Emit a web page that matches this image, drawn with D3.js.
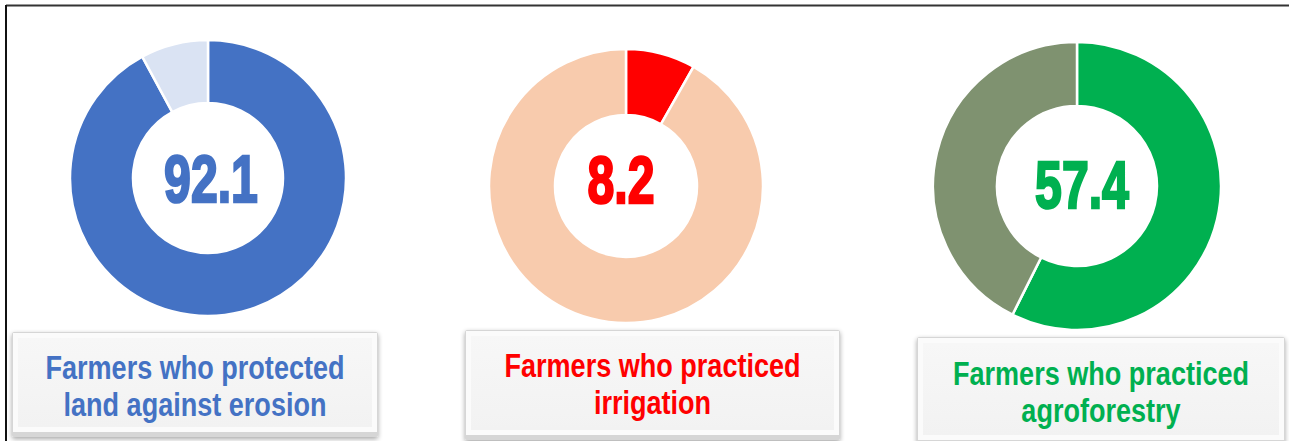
<!DOCTYPE html>
<html>
<head>
<meta charset="utf-8">
<script src="https://cdn.jsdelivr.net/npm/d3@7"></script>
<style>
  body { margin: 0; background: #fff; }
  svg { display: block; }
</style>
</head>
<body>
<div id="chart"></div>
<script>
// data
var values = [92.1, 8.2, 57.4];
var labelLines = [
    ["Farmers who protected", "land against erosion"],
    ["Farmers who practiced", "irrigation"],
    ["Farmers who practiced", "agroforestry"]
];
var mainColors = ["#4472C4", "#FF0000", "#00B050"];
var restColors = ["#DAE3F3", "#F8CBAD", "#7F9270"];

// layout of each panel
var panels = [
    { cx: 208, cy: 178, r0: 75, r1: 138, tx: 211, ty: 178, box: [12, 332, 366, 105] },
    { cx: 626, cy: 186, r0: 71, r1: 137, tx: 621, ty: 179, box: [465, 330, 375, 110] },
    { cx: 1077, cy: 186, r0: 80, r1: 144, tx: 1082, ty: 184, box: [917, 337, 368, 108] }
];

var width = 1289, height = 441;

var svg = d3.select('#chart')
    .append('svg')
    .attr('width', width)
    .attr('height', height);

var defs = svg.append('defs');
var shadow = defs.append('filter').attr('id', 'shadow')
    .attr('x', '-5%').attr('y', '-10%').attr('width', '110%').attr('height', '125%');
shadow.append('feGaussianBlur').attr('in', 'SourceAlpha').attr('stdDeviation', 2.5);
shadow.append('feOffset').attr('dx', 0).attr('dy', 2).attr('result', 'blur');
shadow.append('feComponentTransfer').append('feFuncA').attr('type', 'linear').attr('slope', 0.35);
var merge = shadow.append('feMerge');
merge.append('feMergeNode');
merge.append('feMergeNode').attr('in', 'SourceGraphic');

var face = defs.append('linearGradient').attr('id', 'face')
    .attr('x1', 0).attr('y1', 0).attr('x2', 0).attr('y2', 1);
face.append('stop').attr('offset', '0%').attr('stop-color', '#f7f7f7');
face.append('stop').attr('offset', '100%').attr('stop-color', '#f2f2f2');

// sheet border lines
svg.append('line')
    .attr('x1', 6).attr('x2', width).attr('y1', 5.5).attr('y2', 5.5)
    .attr('stroke', '#333').attr('stroke-width', 2);
svg.append('line')
    .attr('x1', 6).attr('x2', 6).attr('y1', 5).attr('y2', height)
    .attr('stroke', '#111').attr('stroke-width', 2);

var pie = d3.pie().sort(null).value(d => d);

panels.forEach(function (p, i) {
    var g = svg.append('g')
        .attr('transform', 'translate(' + p.cx + ',' + p.cy + ')');
    var arc = d3.arc().innerRadius(p.r0).outerRadius(p.r1);
    var color = d3.scaleOrdinal().domain([0, 1]).range([mainColors[i], restColors[i]]);

    g.selectAll('path')
        .data(pie([values[i], 100 - values[i]]))
        .enter()
        .append('path')
        .attr('d', arc)
        .attr('fill', (d, j) => color(j))
        .attr('stroke', '#fff')
        .attr('stroke-width', 2.5);

    svg.append('text')
        .attr('transform', 'translate(' + p.tx + ',' + p.ty + ') scale(0.72,1)')
        .attr('text-anchor', 'middle')
        .attr('dy', '0.36em')
        .attr('font-family', '"Liberation Sans", Arial, sans-serif')
        .attr('font-weight', 'bold')
        .attr('font-size', 67)
        .attr('fill', mainColors[i])
        .attr('stroke', mainColors[i])
        .attr('stroke-width', 2.5)
        .text(values[i]);

    // label box with bevel
    var b = p.box;
    var bg = svg.append('g').attr('transform', 'translate(' + b[0] + ',' + b[1] + ')');
    bg.append('rect')
        .attr('width', b[2]).attr('height', b[3])
        .attr('rx', 2)
        .attr('fill', '#d6d6d6')
        .attr('filter', 'url(#shadow)');
    bg.append('rect')
        .attr('x', 1).attr('y', 1)
        .attr('width', b[2] - 2).attr('height', b[3] - 6)
        .attr('fill', '#fbfbfb');
    bg.append('rect')
        .attr('x', 6).attr('y', 6)
        .attr('width', b[2] - 12).attr('height', b[3] - 16)
        .attr('fill', 'url(#face)');

    bg.selectAll('text.lbl')
        .data(labelLines[i])
        .enter()
        .append('text')
        .attr('class', 'lbl')
        .attr('transform', (d, j) => 'translate(' + (b[2] / 2) + ',' + (47 + j * 37 + (b[1] - 332) * 0.2) + ') scale(0.82,1)')
        .attr('text-anchor', 'middle')
        .attr('font-family', '"Liberation Sans", Arial, sans-serif')
        .attr('font-weight', 'bold')
        .attr('font-size', 33)
        .attr('fill', mainColors[i])
        .text(d => d);
});
</script>
</body>
</html>
